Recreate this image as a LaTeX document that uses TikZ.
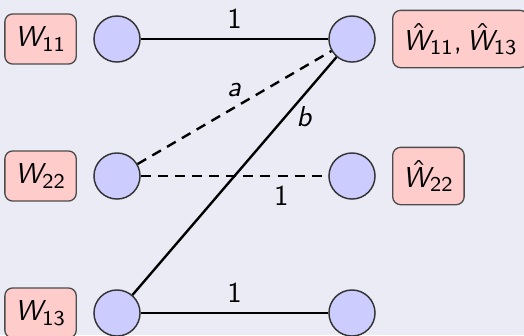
\documentclass[tikz,border=0pt,11pt]{standalone}
\usetikzlibrary{positioning}
\DeclareSymbolFont{operators}{OT1}{cmss}{m}{n}
\DeclareSymbolFont{letters}{OT1}{cmss}{m}{sl}
\mathcode`\,="602C
\definecolor{bgcol}{RGB}{235,235,245}
\tikzset{
  vert/.style={circle, draw=black!80, line width=0.55pt, fill=blue!20, minimum size=17.5pt, inner sep=0pt},
  wbox/.style={draw=black!70, line width=0.5pt, fill=red!20, rounded corners=3pt, inner xsep=3.9pt, inner ysep=4.9pt},
  edgeline/.style={line width=0.9pt},
  dashline/.style={line width=0.9pt, dash pattern=on 3.8pt off 2.7pt}
}
\begin{document}
\begin{tikzpicture}[x=0.38pt,y=-0.38pt]
\fill[bgcol] (0,0) rectangle (524,335);
\useasboundingbox (0,0) rectangle (524,335);
\node[vert] (l1) at (117,39) {};
\node[vert] (l2) at (117,176) {};
\node[vert] (l3) at (117,313) {};
\node[vert] (r1) at (352,39) {};
\node[vert] (r2) at (352,176) {};
\node[vert] (r3) at (352,313) {};
\node[wbox, left=6.2pt of l1] (w11) {$W_{11}$};
\node[wbox, left=6.2pt of l2] (w22) {$W_{22}$};
\node[wbox, left=6.2pt of l3] (w13) {$W_{13}$};
\node[wbox, right=6.2pt of r1] (h1) {$\hat{W}_{11}, \hat{W}_{13}$};
\node[wbox, right=6.2pt of r2] (h2) {$\hat{W}_{22}$};
\draw[edgeline] (l1) -- node[above] {$1$} (r1);
\draw[dashline] (l2) -- node[above] {$a$} (r1);
\draw[edgeline] (l3) -- node[near end, right] {$b$} (r1);
\draw[dashline] (l2) -- node[near end, below] {$1$} (r2);
\draw[edgeline] (l3) -- node[above] {$1$} (r3);
\end{tikzpicture}
\end{document}
